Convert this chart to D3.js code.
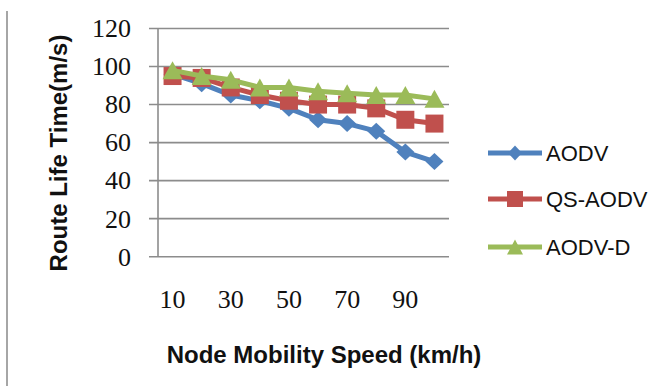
<!DOCTYPE html>
<html>
<head>
<meta charset="utf-8">
<script src="https://cdn.jsdelivr.net/npm/d3@7"></script>
<style>
  body { margin: 0; background: #fff; }
  svg { display: block; }
</style>
</head>
<body>
<div id="chart"></div>
<script>
// Node speed categories (km/h)
const speeds = [10, 20, 30, 40, 50, 60, 70, 80, 90, 100];
const xTickLabels = [10, 30, 50, 70, 90];
const yTicks = [0, 20, 40, 60, 80, 100, 120];

// Route life time per protocol
const aodv   = [96, 91, 85, 82, 78, 72, 70, 66, 55, 50];
const qsAodv = [95, 94, 89, 85, 82, 80, 80, 78, 72, 70];
const aodvD  = [98, 95, 93, 89, 89, 87, 86, 85, 85, 83];

const seriesNames = ["AODV", "QS-AODV", "AODV-D"];
const seriesColors = ["#4F81BD", "#C0504D", "#9BBB59"];
const seriesShapes = ["diamond", "square", "triangle"];

const width = 650, height = 386;
const svg = d3.select("#chart").append("svg")
    .attr("width", width)
    .attr("height", height);

// thin frame line on the left of the picture
svg.append("line")
    .attr("x1", 7).attr("x2", 7)
    .attr("y1", 11).attr("y2", height)
    .attr("stroke", "#a6a6a6")
    .attr("stroke-width", 2);

const plot = { left: 158, right: 449, top: 28.5, bottom: 256.7 };

const x = d3.scaleBand()
    .domain(speeds)
    .range([plot.left, plot.right]);

const y = d3.scaleLinear()
    .domain([0, 120])
    .range([plot.bottom, plot.top]);

// gridlines (extend left to form the tick marks)
svg.append("g")
    .selectAll("line")
    .data(yTicks)
    .join("line")
    .attr("x1", plot.left - 9)
    .attr("x2", plot.right)
    .attr("y1", d => y(d))
    .attr("y2", d => y(d))
    .attr("stroke", "#8c8c8c")
    .attr("stroke-width", 1.6);

// vertical axis line
svg.append("line")
    .attr("x1", plot.left).attr("x2", plot.left)
    .attr("y1", y(120)).attr("y2", y(0))
    .attr("stroke", "#8c8c8c")
    .attr("stroke-width", 1.6);

const tickFont = "'Liberation Serif', 'DejaVu Serif', serif";
const titleFont = "'Liberation Sans', Arial, sans-serif";

// y tick labels
svg.append("g")
    .selectAll("text")
    .data(yTicks)
    .join("text")
    .attr("x", 131)
    .attr("y", d => y(d))
    .attr("dy", "0.34em")
    .attr("text-anchor", "end")
    .attr("font-family", tickFont)
    .attr("font-size", "26px")
    .attr("fill", "#111")
    .text(d => d);

// x tick labels
svg.append("g")
    .selectAll("text")
    .data(xTickLabels)
    .join("text")
    .attr("x", d => x(d) + x.bandwidth() / 2)
    .attr("y", 299)
    .attr("dy", "0.34em")
    .attr("text-anchor", "middle")
    .attr("font-family", tickFont)
    .attr("font-size", "26px")
    .attr("fill", "#111")
    .text(d => d);

// axis titles
svg.append("text")
    .attr("transform", "translate(67,153) rotate(-90)")
    .attr("text-anchor", "middle")
    .attr("font-family", titleFont)
    .attr("font-weight", "bold")
    .attr("font-size", "24px")
    .attr("fill", "#111")
    .text("Route Life Time(m/s)");

svg.append("text")
    .attr("x", 324)
    .attr("y", 363)
    .attr("text-anchor", "middle")
    .attr("font-family", titleFont)
    .attr("font-weight", "bold")
    .attr("font-size", "24px")
    .attr("fill", "#111")
    .text("Node Mobility Speed (km/h)");

// marker paths centred on 0,0
function marker(shape, w, h) {
    const hw = w / 2, hh = h / 2;
    const p = d3.path();
    if (shape === "diamond") {
        p.moveTo(0, -hh); p.lineTo(hw, 0); p.lineTo(0, hh); p.lineTo(-hw, 0);
    } else if (shape === "square") {
        p.rect(-hw, -hh, w, h);
    } else {
        p.moveTo(0, -hh); p.lineTo(hw, hh); p.lineTo(-hw, hh);
    }
    p.closePath();
    return p.toString();
}

const plotMarkers = { diamond: [18, 17], square: [18, 18], triangle: [20, 18] };
const legendMarkers = { diamond: [14, 15], square: [16, 16], triangle: [16, 15] };

const allSeries = [aodv, qsAodv, aodvD];
const line = d3.line()
    .x((d, i) => x(speeds[i]) + x.bandwidth() / 2)
    .y(d => y(d));

allSeries.forEach((values, s) => {
    const shape = seriesShapes[s];
    const g = svg.append("g");
    g.append("path")
        .datum(values)
        .attr("d", line)
        .attr("fill", "none")
        .attr("stroke", seriesColors[s])
        .attr("stroke-width", 5)
        .attr("stroke-linejoin", "round");
    g.selectAll("path.pt")
        .data(values)
        .join("path")
        .attr("class", "pt")
        .attr("transform", (d, i) => `translate(${x(speeds[i]) + x.bandwidth() / 2},${y(d)})`)
        .attr("d", marker(shape, ...plotMarkers[shape]))
        .attr("fill", seriesColors[s]);
});

// legend
const legendY = [153, 199, 247];
seriesNames.forEach((name, s) => {
    const shape = seriesShapes[s];
    const g = svg.append("g").attr("transform", `translate(0,${legendY[s]})`);
    g.append("line")
        .attr("x1", 488).attr("x2", 542)
        .attr("y1", 0).attr("y2", 0)
        .attr("stroke", seriesColors[s])
        .attr("stroke-width", 5);
    g.append("path")
        .attr("transform", "translate(515,0)")
        .attr("d", marker(shape, ...legendMarkers[shape]))
        .attr("fill", seriesColors[s]);
    g.append("text")
        .attr("x", 546)
        .attr("y", 0)
        .attr("dy", "0.35em")
        .attr("font-family", titleFont)
        .attr("font-size", "22px")
        .attr("fill", "#111")
        .text(name);
});
</script>
</body>
</html>
